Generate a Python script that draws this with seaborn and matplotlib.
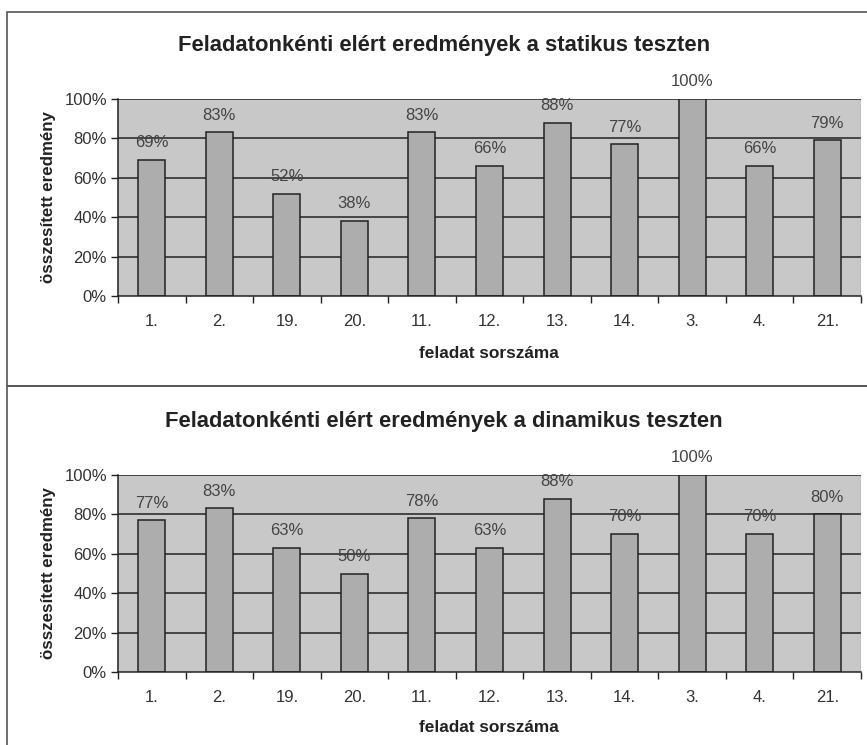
import matplotlib
matplotlib.use('Agg')
import matplotlib.pyplot as plt
import seaborn as sns
import pandas as pd
from matplotlib.patches import Rectangle
from matplotlib.ticker import FixedLocator, FuncFormatter

feladatok = ['1.', '2.', '19.', '20.', '11.', '12.', '13.', '14.', '3.', '4.', '21.']
statikus = [69, 83, 52, 38, 83, 66, 88, 77, 100, 66, 79]
dinamikus = [77, 83, 63, 50, 78, 63, 88, 70, 100, 70, 80]
cimek = ['Feladatonkénti elért eredmények a statikus teszten',
         'Feladatonkénti elért eredmények a dinamikus teszten']

sns.set_style('white')
plt.rcParams['font.family'] = ['Liberation Sans', 'DejaVu Sans']

fig = plt.figure(figsize=(8.67, 7.45), dpi=100)

# panel keretek
fig.patches.append(Rectangle((7 / 867, 1 - 386 / 745), 2, 374 / 745, transform=fig.transFigure,
                             fill=False, edgecolor='#555555', linewidth=1.2))
fig.patches.append(Rectangle((7 / 867, -1), 2, 1 + 1 - 386 / 745, transform=fig.transFigure,
                             fill=False, edgecolor='#555555', linewidth=1.2))

positions = [[118 / 867, 1 - 296 / 745, 743 / 867, 197 / 745],
             [118 / 867, 1 - 672 / 745, 743 / 867, 197 / 745]]
title_y = [1 - 46 / 745, 1 - 422 / 745]
xlabel_y = [1 - 353 / 745, 1 - 728 / 745]

for k, values in enumerate([statikus, dinamikus]):
    ax = fig.add_axes(positions[k])
    df = pd.DataFrame({'feladat': feladatok, 'ertek': values})
    sns.barplot(data=df, x='feladat', y='ertek', ax=ax, color='#adadad',
                edgecolor='#222222', linewidth=1.1, width=0.4, saturation=1)
    ax.set_facecolor('#c8c8c8')
    ax.set_ylim(0, 100)
    ax.set_xlim(-0.5, len(feladatok) - 0.5)
    ax.set_yticks([0, 20, 40, 60, 80, 100])
    ax.yaxis.set_major_formatter(FuncFormatter(lambda v, p: f'{int(v)}%'))
    for yv in [20, 40, 60, 80, 100]:
        ax.axhline(yv, color='#222222', linewidth=1.1, zorder=0.5)
    ax.set_axisbelow(True)
    ax.tick_params(axis='y', left=True, length=5, width=1, direction='out', labelsize=12,
                   colors='#222222', pad=3)
    ax.tick_params(axis='y', labelcolor='#333333')
    ax.xaxis.set_minor_locator(FixedLocator([i - 0.5 for i in range(len(feladatok) + 1)]))
    ax.tick_params(axis='x', which='major', bottom=True, length=0, labelsize=12,
                   labelcolor='#333333', pad=13)
    ax.tick_params(axis='x', which='minor', bottom=True, length=5, width=1, direction='out',
                   color='#222222')
    for side in ['top', 'right']:
        ax.spines[side].set_visible(False)
    ax.spines['left'].set_color('#222222')
    ax.spines['bottom'].set_color('#222222')
    ax.spines['left'].set_linewidth(1.1)
    ax.spines['bottom'].set_linewidth(1.1)
    ax.axvline(len(feladatok) - 0.5, color='#9a9a9a', linewidth=1, zorder=0.6)
    for i, v in enumerate(values):
        ax.annotate(f'{v}%', (i, v), xytext=(0, 7), textcoords='offset points',
                    ha='center', va='bottom', fontsize=12, color='#444444', annotation_clip=False)
    ax.set_xlabel('')
    ax.set_ylabel('összesített eredmény', fontsize=12.2, fontweight='bold', color='#222222', labelpad=6)
    fig.text(444 / 867, title_y[k], cimek[k], ha='center', va='center',
             fontsize=15.8, fontweight='bold', color='#222222')
    fig.text(489 / 867, xlabel_y[k], 'feladat sorszáma', ha='center', va='center',
             fontsize=12.4, fontweight='bold', color='#222222')

fig.savefig('out.png', dpi=100, facecolor='white')
